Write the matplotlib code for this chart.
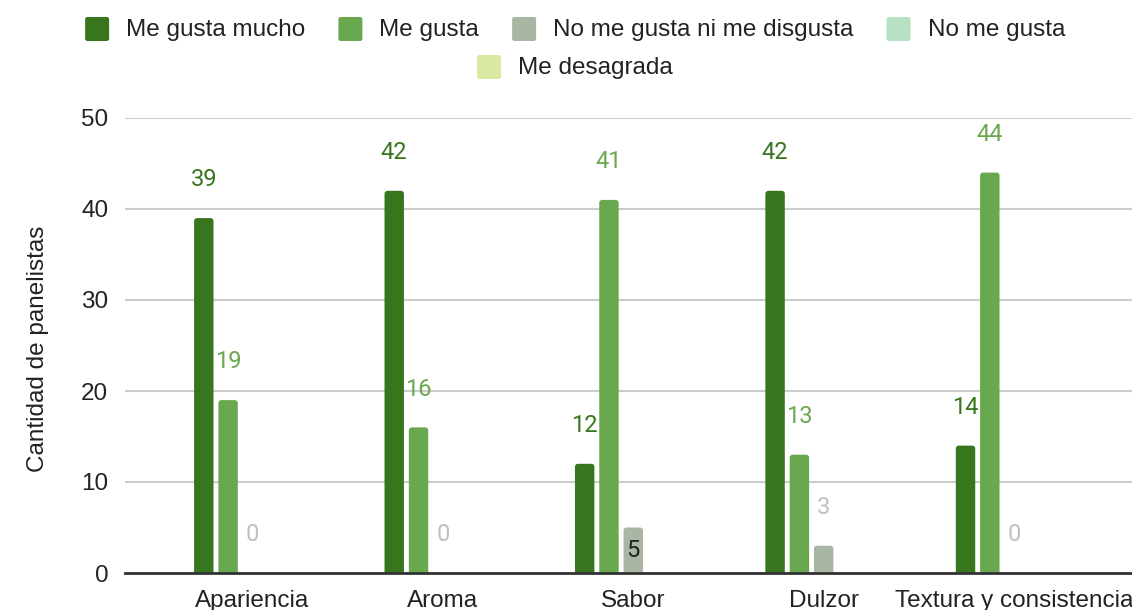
import matplotlib
matplotlib.use("Agg")
import matplotlib.pyplot as plt
from matplotlib.patches import FancyBboxPatch
import matplotlib.transforms as mtransforms
import numpy as np

# Evaluation attributes and panel counts per response level
categories = ["Apariencia", "Aroma", "Sabor", "Dulzor", "Textura y consistencia"]
series_names = ["Me gusta mucho", "Me gusta", "No me gusta ni me disgusta",
                "No me gusta", "Me desagrada"]
me_gusta_mucho = [39, 42, 12, 42, 14]
me_gusta = [19, 16, 41, 13, 44]
ni_gusta_ni_disgusta = [0, 0, 5, 3, 0]
no_me_gusta = [0, 0, 0, 0, 0]
me_desagrada = [0, 0, 0, 0, 0]
y_ticks = [0, 10, 20, 30, 40, 50]

series_values = [me_gusta_mucho, me_gusta, ni_gusta_ni_disgusta, no_me_gusta, me_desagrada]
bar_colors = ["#38761d", "#6aa84f", "#a9b6a3", "#b7e1c3", "#d9e8a3"]
label_colors = ["#38761d", "#6aa84f", "#bcc1b9", None, None]

W, H = 1132, 610
fig = plt.figure(figsize=(W / 100, H / 100), dpi=100)
ax = fig.add_axes([125 / W, 37 / H, 1 - 125 / W, (573 - 118) / H])

x = np.arange(len(categories))
step = 0.1276
width = 0.102
xlim = (-0.669, 4.619)
ylim = (0, 50)
ax.set_xlim(*xlim)
ax.set_ylim(*ylim)

# data units per pixel, used for the rounded bar tops
ax_w_px = W - 125
ax_h_px = 573 - 118
x_per_px = (xlim[1] - xlim[0]) / ax_w_px
y_per_px = (ylim[1] - ylim[0]) / ax_h_px
radius = 3 * x_per_px
aspect = y_per_px / x_per_px

for j, (vals, col) in enumerate(zip(series_values, bar_colors)):
    pos = x + (j - 2) * step
    bars = ax.bar(pos, vals, width=width, color=col, zorder=3)
    for r in bars:
        h = r.get_height()
        r.set_visible(False)
        if h <= 0:
            continue
        base = -4 * y_per_px
        ax.add_patch(FancyBboxPatch((r.get_x(), base), r.get_width(), h - base,
                                    boxstyle=f"round,pad=0,rounding_size={radius}",
                                    mutation_aspect=aspect, facecolor=col,
                                    edgecolor="none", zorder=3, clip_on=True))
    if label_colors[j] is None:
        continue
    for p, v in zip(pos, vals):
        if j == 2 and v == 5:
            # label drawn inside the short bar
            ax.text(p, v, str(v), ha="center", va="center", fontsize=17,
                    family="Roboto", color="#222222", zorder=4,
                    transform=ax.transData + mtransforms.ScaledTranslation(0, -23 / 100, fig.dpi_scale_trans))
        else:
            ax.annotate(str(v), (p, v), xytext=(0, 27.5), textcoords="offset points",
                        ha="center", va="center", fontsize=17, family="Roboto",
                        color=label_colors[j], zorder=4)

ax.set_yticks(y_ticks)
ax.set_yticklabels([str(t) for t in y_ticks], family="Liberation Sans", fontsize=17.5, color="#222222")
ax.set_xticks(x)
ax.set_xticklabels(categories, family="Liberation Sans", fontsize=17.5, color="#222222")
ax.tick_params(axis="y", length=0, pad=12)
ax.tick_params(axis="x", length=0, pad=12)
ax.grid(axis="y", color="#cccccc", linewidth=1.5, zorder=0)
for s in ["top", "right", "left"]:
    ax.spines[s].set_visible(False)
ax.spines["bottom"].set_color("#333333")
ax.spines["bottom"].set_linewidth(2)
ax.spines["bottom"].set_zorder(5)

fig.text(38 / W, 1 - 349 / H, "Cantidad de panelistas", rotation=90, ha="center", va="center",
         family="Liberation Sans", fontsize=17.5, color="#222222")

# Legend: two centred rows of swatch + label
renderer = fig.canvas.get_renderer()
sq, gap_txt, gap_item = 24, 17, 33
rows = [(range(0, 4), 29), (range(4, 5), 67)]
center_x = 575
for idx, yc in rows:
    texts = []
    widths = []
    for k in idx:
        t = fig.text(0, 0, series_names[k], ha="left", va="center", family="Liberation Sans",
                     fontsize=17.5, color="#222222")
        texts.append((k, t))
        widths.append(t.get_window_extent(renderer).width)
    total = sum(sq + gap_txt + w for w in widths) + gap_item * (len(widths) - 1)
    cur = center_x - total / 2
    for (k, t), w in zip(texts, widths):
        patch = FancyBboxPatch((cur / W, 1 - (yc + sq / 2) / H), sq / W, sq / H,
                               boxstyle="round,pad=0,rounding_size=0.002",
                               transform=fig.transFigure, facecolor=bar_colors[k],
                               edgecolor="none", mutation_aspect=W / H)
        fig.patches.append(patch)
        t.set_position(((cur + sq + gap_txt) / W, 1 - (yc + 1) / H))
        cur += sq + gap_txt + w + gap_item

fig.savefig("out.png", dpi=100)
